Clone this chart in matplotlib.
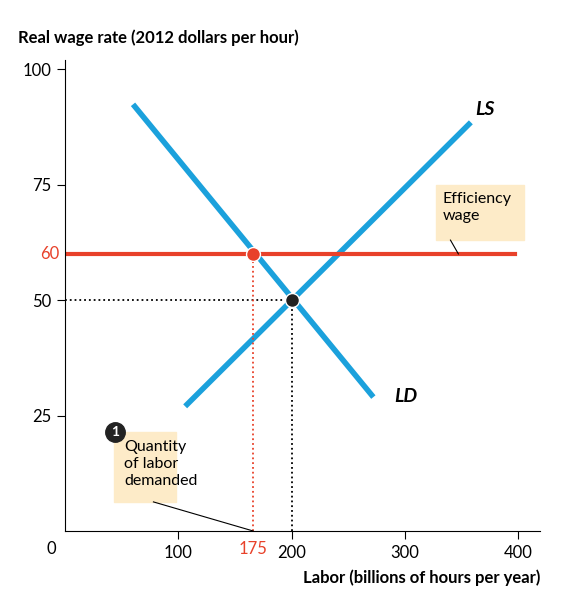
import matplotlib.pyplot as plt
import matplotlib.patches as mpatches

plt.rcParams['font.family'] = ['Lato', 'DejaVu Sans']

blue = '#1ba1dc'
red = '#e8412a'
box_col = '#fdebc8'

eq_point = (200, 50)
eff_point = (166, 60)
ld_x = [60, 272]
ld_y = [92.4, 29]
ls_x = [106, 358]
ls_y = [27, 88.5]
eff_wage = 60
eff_x = [0, 397]
xticks = [100, 200, 300, 400]
yticks = [25, 50, 75, 100]

fig = plt.figure(figsize=(5.65, 5.99), dpi=100)
ax = fig.add_axes([65/565, 1-531/599, 475/565, 471/599])
ax.set_xlim(0, 419)
ax.set_ylim(0, 102)
for s in ['top', 'right']:
    ax.spines[s].set_visible(False)
ax.spines['left'].set_linewidth(0.8)
ax.spines['bottom'].set_linewidth(0.8)

ax.plot(ld_x, ld_y, color=blue, lw=4, solid_capstyle='butt')
ax.plot(ls_x, ls_y, color=blue, lw=4, solid_capstyle='butt')
ax.plot(eff_x, [eff_wage, eff_wage], color=red, lw=3)

ax.plot([0, eq_point[0]], [50, 50], ls=':', color='black', lw=1.3)
ax.plot([eq_point[0], eq_point[0]], [0, 50], ls=':', color='black', lw=1.3)
ax.plot([eff_point[0], eff_point[0]], [0, 60], ls=':', color=red, lw=1.3)
ax.plot(*eq_point, 'o', color='#222222', ms=10, mec='white', mew=1)
ax.plot(*eff_point, 'o', color=red, ms=10, mec='white', mew=1)

ax.set_xticks(xticks)
ax.set_xticklabels([str(t) for t in xticks], fontsize=12)
ax.set_yticks(yticks)
ax.set_yticklabels([str(t) for t in yticks], fontsize=12)
ax.tick_params(direction='out', length=6, width=0.8, pad=4)
ax.text(eff_point[0], -2.2, '175', color=red, fontsize=12, ha='center', va='top')
ax.text(-5, 60, '60', color=red, fontsize=12, ha='right', va='center')
ax.text(-12, -2.2, '0', fontsize=12, ha='center', va='top')

ax.text(362, 90, 'LS', fontsize=14, fontweight='bold', style='italic')
ax.text(290, 28, 'LD', fontsize=14, fontweight='bold', style='italic')

fig.text(18/565, 1-38/599, 'Real wage rate (2012 dollars per hour)', fontsize=12, fontweight='bold', va='center')
fig.text(540/565, 1-578/599, 'Labor (billions of hours per year)', fontsize=12, fontweight='bold', ha='right', va='center')

# efficiency wage label
ax.add_patch(mpatches.Rectangle((327, 63), 78, 12, color=box_col, zorder=3))
ax.text(333, 73.5, 'Efficiency\nwage', fontsize=11.5, va='top', zorder=4, linespacing=1.3)
ax.plot([340, 347], [63, 60], color='black', lw=0.8, zorder=4)

# quantity demanded label
ax.add_patch(mpatches.Rectangle((43, 6.3), 55, 15.2, color=box_col, zorder=3))
ax.text(52, 19.8, 'Quantity\nof labor\ndemanded', fontsize=11.5, va='top', zorder=4, linespacing=1.3)
ax.plot([78, eff_point[0]], [6.3, 0], color='black', lw=0.8, zorder=4)
ax.plot(44, 21.5, 'o', color='#222222', ms=14, zorder=5, clip_on=False)
ax.text(44, 21.5, '1', color='white', fontsize=10, fontweight='bold', ha='center', va='center', zorder=6)

fig.savefig('out.png', dpi=100)
